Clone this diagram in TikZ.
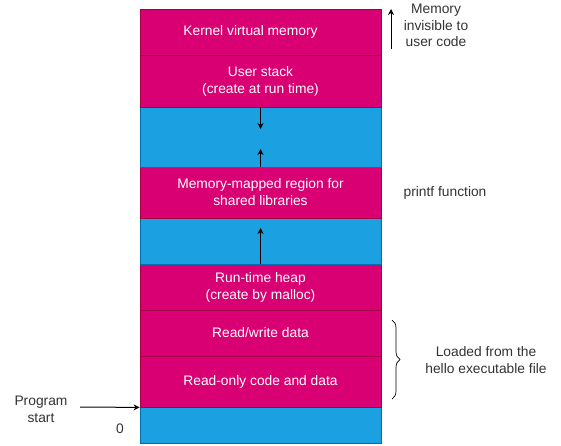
\documentclass[tikz,border=0pt]{standalone}
\usepackage{fontspec}
\setmainfont{Liberation Sans}
\usetikzlibrary{arrows.meta,decorations.pathreplacing}
\definecolor{magfill}{HTML}{D80073}
\definecolor{magline}{HTML}{A50040}
\definecolor{bluefill}{HTML}{1BA1E2}
\definecolor{blueline}{HTML}{006EAF}
\definecolor{txt}{HTML}{333333}
\begin{document}
\begin{tikzpicture}[x=1pt,y=-1pt,
  seg/.style={draw, line width=0.8pt, minimum width=241pt, inner sep=0pt, text=white, align=center, font=\fontsize{13.8}{17}\selectfont},
  mag/.style={seg, fill=magfill, draw=magline},
  blu/.style={seg, fill=bluefill, draw=blueline},
  lbl/.style={text=txt, align=center, font=\fontsize{13.8}{16.5}\selectfont, inner sep=0pt},
  arr/.style={-{Stealth[length=6pt,width=6pt]}, line width=1pt, black}]
\useasboundingbox (0,0) rectangle (561,445);
\node[blu, minimum height=36pt] (b3) at (260.5,425) {};
\node[mag, minimum height=51pt] (ro) at (260.5,381.5) {Read-only code and data};
\node[mag, minimum height=46pt] (rw) at (260.5,333) {Read/write data};
\node[mag, minimum height=46pt] (heap) at (260.5,287) {Run-time heap\\(create by malloc)};
\node[blu, minimum height=46pt] (b2) at (260.5,241) {};
\node[mag, minimum height=51pt] (mm) at (260.5,192.5) {Memory-mapped region for\\shared libraries};
\node[blu, minimum height=60pt] (b1) at (260.5,137) {};
\node[mag, minimum height=52pt] (us) at (260.5,81) {User stack\\(create at run time)};
\node[mag, minimum height=46pt] (k) at (260.5,32) {Kernel virtual memory\hspace*{20pt}};
% arrows in gaps
\coordinate (d1) at (260.5,129);
\coordinate (u1) at (260.5,149);
\coordinate (u2) at (260.5,228);
\draw[arr] (b1.north) -- (d1);
\draw[arr] (b1.south) -- (u1);
\draw[arr] (b2.south) -- (u2);
% right side
\coordinate (ia) at (391,49);
\coordinate (ib) at (391,9);
\draw[arr] (ia) -- (ib);
\node[lbl] (inv) at (436,25.5) {Memory\\invisible to\\user code};
\node[lbl] (pf) at (445,193) {printf function};
\coordinate (bt) at (392,320);
\coordinate (bb) at (392,399);
\draw[line width=0.7pt, black, decorate, decoration={brace, amplitude=8pt}] (bt) -- (bb);
\node[lbl] (ld) at (486,360) {Loaded from the\\hello executable file};
% left side
\node[lbl] (ps) at (41,409.5) {Program\\start};
\coordinate (pa) at (80,407);
\draw[arr] (pa) -- (ro.south west);
\node[lbl] (zero) at (120,429) {0};
\end{tikzpicture}
\end{document}
